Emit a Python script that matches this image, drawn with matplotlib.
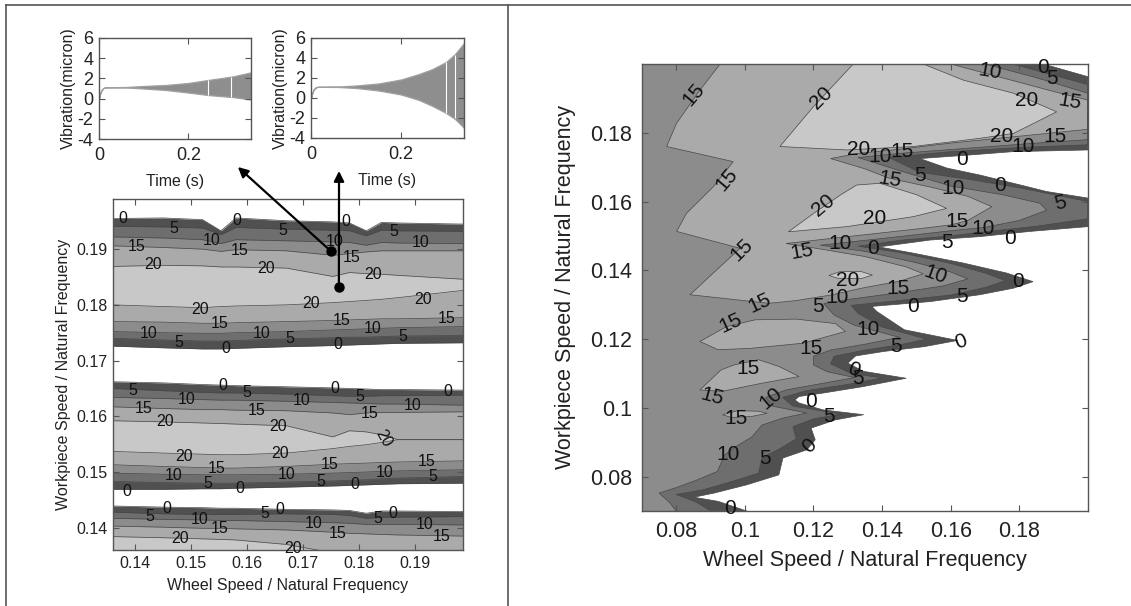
import matplotlib
matplotlib.use('Agg')
import matplotlib.pyplot as plt
from matplotlib.lines import Line2D
from matplotlib.ticker import FuncFormatter

plt.rcParams['font.family'] = ['Liberation Sans', 'DejaVu Sans']
plt.rcParams['axes.unicode_minus'] = False

# ---------------- data ----------------
levels = [0, 5, 10, 15, 20]
shades = ['#505050', '#6e6e6e', '#8c8c8c', '#aaaaaa', '#c8c8c8']
edge = '#474747'

# vibration envelopes of the two insets
time_a = [0, 0.003, 0.006, 0.01, 0.015, 0.06, 0.1, 0.15, 0.2, 0.245, 0.3, 0.34]
upper_a = [0, 0.55, 0.85, 1.05, 1.12, 1.15, 1.25, 1.35, 1.55, 1.85, 2.2, 2.6]
lower_a = [0, 0.55, 0.85, 1.05, 1.12, 1.1, 1.0, 0.85, 0.6, 0.35, 0.15, -0.1]
gaps_a = [0.243, 0.296]          # white sampling streaks
gaps_a_lo = [0.37, 0.17]
gaps_a_hi = [1.83, 2.15]

time_b = [0, 0.003, 0.006, 0.01, 0.015, 0.06, 0.1, 0.15, 0.2, 0.24, 0.27, 0.3, 0.32, 0.34]
upper_b = [0, 0.55, 0.85, 1.05, 1.12, 1.15, 1.25, 1.45, 1.85, 2.4, 2.9, 3.6, 4.4, 5.5]
lower_b = [0, 0.55, 0.85, 1.05, 1.12, 1.1, 1.0, 0.75, 0.35, -0.2, -0.8, -1.5, -2.1, -3.0]
gaps_b = [0.301, 0.319]
gaps_b_lo = [-1.5, -2.0]
gaps_b_hi = [3.6, 4.3]

# left map: contour boundaries (workpiece speed) at each wheel speed, three stable bands
wheel_l = [0.136, 0.145, 0.152, 0.1553, 0.158, 0.167, 0.1753, 0.1783, 0.1813, 0.184, 0.187, 0.1986]

band1_top = [
    [0.1955, 0.1956, 0.1953, 0.1933, 0.1956, 0.1951, 0.1949, 0.1947, 0.1933, 0.1948, 0.1947, 0.1945],
    [0.1941, 0.1940, 0.1938, 0.1926, 0.1939, 0.1936, 0.1934, 0.1933, 0.1924, 0.1934, 0.1933, 0.1932],
    [0.1922, 0.1920, 0.1917, 0.1910, 0.1917, 0.1915, 0.1913, 0.1912, 0.1907, 0.1912, 0.1911, 0.1910],
    [0.1906, 0.1903, 0.1900, 0.1896, 0.1899, 0.1897, 0.1889, 0.1892, 0.1895, 0.1897, 0.1897, 0.1897],
    [0.1869, 0.1871, 0.1870, 0.1868, 0.1868, 0.1866, 0.1851, 0.1858, 0.1856, 0.1855, 0.1853, 0.1846],
]
band1_bot = [
    [0.1726, 0.1723, 0.1721, 0.1721, 0.1722, 0.1725, 0.1727, 0.1728, 0.1729, 0.1730, 0.1731, 0.1732],
    [0.1740, 0.1737, 0.1735, 0.1735, 0.1736, 0.1739, 0.1741, 0.1742, 0.1742, 0.1743, 0.1744, 0.1745],
    [0.1752, 0.1750, 0.1749, 0.1749, 0.1750, 0.1752, 0.1755, 0.1756, 0.1757, 0.1758, 0.1759, 0.1761],
    [0.1770, 0.1769, 0.1767, 0.1767, 0.1768, 0.1770, 0.1772, 0.1773, 0.1774, 0.1775, 0.1775, 0.1777],
    [0.1800, 0.1797, 0.1795, 0.1797, 0.1798, 0.1800, 0.1804, 0.1806, 0.1808, 0.1810, 0.1813, 0.1826],
]
band2_top = [
    [0.1662, 0.1660, 0.1657, 0.1656, 0.1655, 0.1653, 0.1651, 0.1650, 0.1649, 0.1648, 0.1648, 0.1647],
    [0.1650, 0.1646, 0.1643, 0.1642, 0.1642, 0.1640, 0.1637, 0.1636, 0.1636, 0.1637, 0.1637, 0.1638],
    [0.1634, 0.1632, 0.1630, 0.1629, 0.1629, 0.1627, 0.1625, 0.1624, 0.1623, 0.1622, 0.1622, 0.1620],
    [0.1617, 0.1614, 0.1612, 0.1612, 0.1611, 0.1610, 0.1606, 0.1603, 0.1606, 0.1607, 0.1607, 0.1608],
    [0.1592, 0.1590, 0.1588, 0.1587, 0.1586, 0.1583, 0.1563, 0.1574, 0.1572, 0.1567, 0.1558, 0.1558],
]
band2_bot = [
    [0.1469, 0.1469, 0.1470, 0.1470, 0.1471, 0.1473, 0.1475, 0.1476, 0.1477, 0.1478, 0.1479, 0.1480],
    [0.1483, 0.1481, 0.1480, 0.1480, 0.1480, 0.1482, 0.1484, 0.1485, 0.1486, 0.1488, 0.1489, 0.1492],
    [0.1498, 0.1496, 0.1495, 0.1495, 0.1495, 0.1496, 0.1498, 0.1499, 0.1500, 0.1501, 0.1502, 0.1504],
    [0.1513, 0.1510, 0.1508, 0.1507, 0.1507, 0.1510, 0.1514, 0.1515, 0.1516, 0.1517, 0.1518, 0.1520],
    [0.1537, 0.1534, 0.1532, 0.1531, 0.1531, 0.1534, 0.1542, 0.1546, 0.1549, 0.1553, 0.1558, 0.1558],
]
band3_top = [
    [0.1439, 0.1437, 0.1436, 0.1435, 0.1435, 0.1433, 0.1432, 0.1431, 0.1426, 0.1430, 0.1430, 0.1429],
    [0.1428, 0.1425, 0.1424, 0.1424, 0.1424, 0.1425, 0.1424, 0.1422, 0.1417, 0.1418, 0.1419, 0.1420],
    [0.1417, 0.1415, 0.1414, 0.1413, 0.1413, 0.1411, 0.1409, 0.1408, 0.1406, 0.1406, 0.1406, 0.1405],
    [0.1403, 0.1401, 0.1399, 0.1399, 0.1398, 0.1396, 0.1392, 0.1390, 0.1389, 0.1388, 0.1387, 0.1385],
    [0.1384, 0.1382, 0.1380, 0.1379, 0.1378, 0.1370, 0.1355, 0.1350, 0.1345, 0.1340, 0.1340, 0.1340],
]
band3_bot = [[0.13] * 12 for _ in levels]

# the two simulated operating points
picked_wheel = [0.1749, 0.1764]
picked_work = [0.1897, 0.1832]

# right map: contour lines as (wheel, workpiece) paths
c0_x = [0.187, 0.200, 0.200, 0.178, 0.165, 0.151, 0.159, 0.1685, 0.1783, 0.188, 0.200, 0.200, 0.183,
        0.1685, 0.154, 0.139, 0.149, 0.1637, 0.1763, 0.184, 0.1783, 0.1685, 0.154, 0.137, 0.1385, 0.1465,
        0.162, 0.1523, 0.1405, 0.1323, 0.130, 0.1346, 0.147, 0.1346, 0.1228, 0.1158, 0.1146, 0.1158,
        0.1228, 0.1346, 0.1264, 0.1193, 0.1205, 0.1181, 0.1111, 0.1099, 0.1005, 0.0910, 0.0851, 0.0922, 0.1005]
c0_y = [0.200, 0.1963, 0.1750, 0.1745, 0.1735, 0.1725, 0.1697, 0.1677, 0.1653, 0.1629, 0.1610, 0.1527, 0.1513,
        0.1498, 0.1488, 0.1468, 0.1450, 0.1421, 0.1392, 0.1367, 0.1348, 0.1329, 0.1309, 0.1295, 0.1280, 0.1227,
        0.1196, 0.1178, 0.1164, 0.1151, 0.1130, 0.1106, 0.1086, 0.1062, 0.1043, 0.1033, 0.1023, 0.1014,
        0.0994, 0.0980, 0.0965, 0.0941, 0.0907, 0.0878, 0.0854, 0.0805, 0.0776, 0.0752, 0.0740, 0.0728, 0.0700]

c5_x = [0.178, 0.200, 0.200, 0.180, 0.160, 0.142, 0.151, 0.165, 0.180, 0.200, 0.200, 0.185, 0.170, 0.160,
        0.145, 0.133, 0.145, 0.160, 0.170, 0.176, 0.170, 0.160, 0.145, 0.131, 0.133, 0.140, 0.153, 0.145,
        0.135, 0.126, 0.125, 0.131, 0.140, 0.130, 0.118, 0.111, 0.114, 0.128, 0.120, 0.114, 0.115, 0.110,
        0.105, 0.104, 0.096, 0.088, 0.080, 0.086, 0.090]
c5_y = [0.200, 0.1940, 0.1765, 0.1757, 0.1745, 0.1728, 0.1685, 0.1665, 0.1640, 0.1600, 0.1550, 0.1528, 0.1512, 0.1500,
        0.1487, 0.1470, 0.1452, 0.1420, 0.1392, 0.1370, 0.1350, 0.1328, 0.1312, 0.1298, 0.1275, 0.1235, 0.1200, 0.1183,
        0.1168, 0.1150, 0.1128, 0.1100, 0.1087, 0.1068, 0.1050, 0.1030, 0.1005, 0.0982, 0.0968, 0.0945, 0.0910, 0.0880,
        0.0855, 0.0810, 0.0785, 0.0762, 0.0748, 0.0725, 0.0700]

c10_x = [0.170, 0.185, 0.200, 0.200, 0.185, 0.165, 0.145, 0.133, 0.145, 0.160, 0.175, 0.186, 0.188, 0.180,
         0.170, 0.160, 0.145, 0.122, 0.135, 0.150, 0.160, 0.165, 0.158, 0.145, 0.130, 0.123, 0.126, 0.132,
         0.145, 0.135, 0.125, 0.120, 0.120, 0.124, 0.132, 0.122, 0.112, 0.106, 0.108, 0.118, 0.111, 0.105,
         0.102, 0.097, 0.094, 0.092, 0.086, 0.080, 0.075, 0.078, 0.080]
c10_y = [0.200, 0.1960, 0.1915, 0.1780, 0.1770, 0.1755, 0.1740, 0.1728, 0.1690, 0.1645, 0.1620, 0.1595, 0.1575, 0.1545,
         0.1525, 0.1515, 0.1498, 0.1473, 0.1455, 0.1422, 0.1395, 0.1375, 0.1355, 0.1335, 0.1315, 0.1303, 0.1270, 0.1240,
         0.1205, 0.1185, 0.1168, 0.1150, 0.1125, 0.1105, 0.1088, 0.1070, 0.1052, 0.1030, 0.1005, 0.0985, 0.0970, 0.0950,
         0.0915, 0.0885, 0.0862, 0.0815, 0.0790, 0.0768, 0.0752, 0.0725, 0.0700]

c15_x = [0.0928, 0.160, 0.175, 0.190, 0.200, 0.200, 0.190, 0.175, 0.160, 0.145, 0.133, 0.125, 0.135, 0.142,
         0.155, 0.165, 0.172, 0.165, 0.160, 0.150, 0.130, 0.112, 0.122, 0.135, 0.147, 0.152, 0.145, 0.135,
         0.125, 0.115, 0.107, 0.0840, 0.0908, 0.0986, 0.0801, 0.0830, 0.0908, 0.0966, 0.0772, 0.0801, 0.0869]
c15_y = [0.200, 0.200, 0.1960, 0.1920, 0.1895, 0.1810, 0.1800, 0.1785, 0.1770, 0.1752, 0.1740, 0.1725, 0.1695, 0.1668,
         0.1640, 0.1615, 0.1585, 0.1545, 0.1532, 0.1520, 0.1498, 0.1478, 0.1462, 0.1440, 0.1410, 0.1390, 0.1368, 0.1350,
         0.1328, 0.1312, 0.1304, 0.1329, 0.1392, 0.1464, 0.1513, 0.1566, 0.1643, 0.1716, 0.1760, 0.1828, 0.1924]
isle1_x = [0.0869, 0.0946, 0.1030, 0.1150, 0.1264, 0.1293, 0.1170, 0.1016, 0.0922]
isle1_y = [0.1193, 0.1236, 0.1256, 0.1258, 0.1245, 0.1222, 0.1188, 0.1173, 0.1169]
isle2_x = [0.0869, 0.0930, 0.0969, 0.1040, 0.1100, 0.1158, 0.1052, 0.0934]
isle2_y = [0.1052, 0.1110, 0.1125, 0.1140, 0.1120, 0.1091, 0.1072, 0.1048]
isle3_x = [0.0935, 0.0980, 0.1040, 0.1065, 0.1020, 0.0960]
isle3_y = [0.0980, 0.0992, 0.0990, 0.0984, 0.0975, 0.0972]

c20a_x = [0.1316, 0.1200, 0.1102, 0.1297, 0.1491, 0.1686, 0.1783, 0.1909, 0.1783, 0.1637, 0.1520]
c20a_y = [0.2000, 0.1876, 0.1760, 0.1750, 0.1760, 0.1784, 0.1798, 0.1861, 0.1915, 0.1953, 0.2000]
c20b_x = [0.1127, 0.1200, 0.1280, 0.1326, 0.1394, 0.1500, 0.1588, 0.1491, 0.1297]
c20b_y = [0.1512, 0.1565, 0.1620, 0.1648, 0.1653, 0.1620, 0.1580, 0.1556, 0.1527]
c20c_x = [0.1245, 0.1280, 0.1340, 0.1372, 0.1340, 0.1270]
c20c_y = [0.1385, 0.1397, 0.1396, 0.1386, 0.1376, 0.1377]

# contour labels (x, y, text, rotation)
labels_left = [
    (0.1378, 0.1955, '0', 0), (0.1468, 0.1937, '5', 0), (0.1581, 0.1952, '0', 0), (0.1664, 0.1934, '5', 0),
    (0.1777, 0.1949, '0', 0), (0.1863, 0.1931, '5', 0), (0.1402, 0.1904, '15', 0), (0.1536, 0.1916, '10', 0),
    (0.1587, 0.1897, '15', 0), (0.1756, 0.1913, '10', 0), (0.1786, 0.1885, '15', 0), (0.1911, 0.1912, '10', 0),
    (0.1432, 0.1872, '20', 0), (0.1634, 0.1866, '20', 0), (0.1825, 0.1854, '20', 0), (0.1515, 0.1791, '20', 0),
    (0.1715, 0.1803, '20', 0), (0.1914, 0.1810, '20', 0), (0.1551, 0.1767, '15', 0), (0.1768, 0.1772, '15', 0),
    (0.1956, 0.1776, '15', 0), (0.1423, 0.1748, '10', 0), (0.1625, 0.1748, '10', 0), (0.1825, 0.1757, '10', 0),
    (0.1477, 0.1733, '5', 0), (0.1676, 0.1740, '5', 0), (0.1878, 0.1744, '5', 0), (0.1561, 0.1722, '0', 0),
    (0.1762, 0.1728, '0', 0),
    (0.1396, 0.1647, '5', 0), (0.1556, 0.1656, '0', 0), (0.1599, 0.1642, '5', 0), (0.1756, 0.1650, '0', 0),
    (0.1801, 0.1635, '5', 0), (0.1959, 0.1644, '0', 0), (0.1491, 0.1631, '10', 0), (0.1697, 0.1628, '10', 0),
    (0.1896, 0.1619, '10', 0), (0.1414, 0.1614, '15', 0), (0.1616, 0.1611, '15', 0), (0.1819, 0.1605, '15', 0),
    (0.1453, 0.1590, '20', 0), (0.1655, 0.1581, '20', 0), (0.1843, 0.1561, '20', -60), (0.1488, 0.1528, '20', 0),
    (0.1658, 0.1534, '20', 0), (0.1545, 0.1507, '15', 0), (0.1747, 0.1514, '15', 0), (0.1920, 0.1519, '15', 0),
    (0.1468, 0.1494, '10', 0), (0.1670, 0.1495, '10', 0), (0.1845, 0.1499, '10', 0), (0.1530, 0.1480, '5', 0),
    (0.1732, 0.1483, '5', 0), (0.1932, 0.1492, '5', 0), (0.1384, 0.1465, '0', 0), (0.1587, 0.1471, '0', 0),
    (0.1792, 0.1477, '0', 0),
    (0.1456, 0.1435, '0', 0), (0.1426, 0.1420, '5', 0), (0.1658, 0.1432, '0', 0), (0.1631, 0.1426, '5', 0),
    (0.1860, 0.1426, '0', 0), (0.1834, 0.1417, '5', 0), (0.1515, 0.1414, '10', 0), (0.1718, 0.1408, '10', 0),
    (0.1917, 0.1405, '10', 0), (0.1551, 0.1399, '15', 0), (0.1762, 0.1390, '15', 0), (0.1947, 0.1385, '15', 0),
    (0.1480, 0.1380, '20', 0), (0.1682, 0.1362, '20', 0),
]
labels_right = [
    (0.0850, 0.1910, '15', 50), (0.1224, 0.1900, '20', 45), (0.0947, 0.1663, '15', 50), (0.1229, 0.1590, '20', 40),
    (0.0991, 0.1460, '15', 45), (0.1166, 0.1455, '15', 10), (0.1044, 0.1304, '15', 25), (0.0957, 0.1246, '15', 25),
    (0.1715, 0.1978, '10', -10), (0.1868, 0.1989, '0', 0), (0.1895, 0.1958, '5', 0), (0.1822, 0.1895, '20', 0),
    (0.1948, 0.1891, '15', -10), (0.1749, 0.1789, '20', 0), (0.1812, 0.1760, '10', 0), (0.1904, 0.1789, '15', 0),
    (0.1331, 0.1750, '20', 0), (0.1394, 0.1731, '10', 0), (0.1457, 0.1745, '15', 0), (0.1632, 0.1721, '0', 0),
    (0.1423, 0.1663, '15', -10), (0.1511, 0.1677, '5', 0), (0.1608, 0.1639, '10', 0), (0.1744, 0.1648, '0', 0),
    (0.1919, 0.1595, '5', 15), (0.1379, 0.1551, '20', 0), (0.1618, 0.1543, '15', 0), (0.1588, 0.1482, '5', 0),
    (0.1695, 0.1522, '10', 0), (0.1773, 0.1493, '0', 0), (0.1277, 0.1479, '10', 0), (0.1374, 0.1464, '0', 0),
    (0.1554, 0.1387, '10', -20), (0.1797, 0.1367, '0', 0), (0.1300, 0.1369, '20', 0), (0.1447, 0.1348, '15', 0),
    (0.1632, 0.1324, '5', 0), (0.1491, 0.1295, '0', 0), (0.1270, 0.1320, '10', 0), (0.1212, 0.1296, '5', 0),
    (0.1358, 0.1227, '10', 0), (0.1629, 0.1193, '0', 20), (0.1193, 0.1174, '15', 0), (0.1440, 0.1178, '5', 0),
    (0.1010, 0.1115, '15', 0), (0.1317, 0.1111, '0', -20), (0.1329, 0.1086, '5', 0), (0.0904, 0.1033, '15', -15),
    (0.1075, 0.1028, '10', 40), (0.1193, 0.1018, '0', 0), (0.0975, 0.0970, '15', 0), (0.1246, 0.0975, '5', 0),
    (0.1187, 0.0888, '0', 45), (0.0952, 0.0864, '10', 0), (0.1058, 0.0854, '5', 0), (0.0957, 0.0708, '0', 0),
]

fmt = FuncFormatter(lambda v, p: f'{v:g}')


def style(ax, size, pad):
    for s in ax.spines.values():
        s.set_color('#555555')
        s.set_linewidth(1.0)
    ax.tick_params(direction='in', top=True, right=True, length=4, width=0.8, color='#555555',
                   labelsize=size, pad=pad, labelcolor='#222222')
    ax.xaxis.set_major_formatter(fmt)
    ax.yaxis.set_major_formatter(fmt)


def inset(rect, t, up, lo, gt, glo, ghi):
    ax = fig.add_axes(rect)
    ax.fill_between(t, lo, up, facecolor='#8e8e8e', edgecolor='#a0a0a0', lw=0.9)
    ax.vlines(gt, glo, ghi, color='white', lw=0.8)
    ax.set_xlim(0, 0.34)
    ax.set_ylim(-4, 6)
    ax.set_xticks([0, 0.2])
    ax.set_yticks([-4, -2, 0, 2, 4, 6])
    style(ax, 13, 4)
    ax.tick_params(axis='x', pad=6)
    ax.set_xlabel('Time (s)', fontsize=11.5, labelpad=7, color='#222222')
    ax.set_ylabel('Vibration(micron)', fontsize=11.5, labelpad=1, color='#222222')
    return ax


fig = plt.figure(figsize=(11.31, 6.06), dpi=100)

# frame lines
fig.add_artist(Line2D([6 / 1131, 1], [1 - 5 / 606] * 2, color='#555555', lw=1.2, transform=fig.transFigure))
fig.add_artist(Line2D([6 / 1131] * 2, [0, 1 - 5 / 606], color='#555555', lw=1.2, transform=fig.transFigure))
fig.add_artist(Line2D([508 / 1131] * 2, [0, 1 - 5 / 606], color='#555555', lw=1.2, transform=fig.transFigure))

ins_a = inset([0.0875, 0.7706, 0.1344, 0.1667], time_a, upper_a, lower_a, gaps_a, gaps_a_lo, gaps_a_hi)
ins_b = inset([0.2750, 0.7723, 0.1353, 0.1650], time_b, upper_b, lower_b, gaps_b, gaps_b_lo, gaps_b_hi)

# ---- left stability map ----
axl = fig.add_axes([0.0999, 0.0924, 0.3095, 0.5792])
for top, bot in [(band1_top, band1_bot), (band2_top, band2_bot), (band3_top, band3_bot)]:
    for k in range(len(levels)):
        axl.fill_between(wheel_l, bot[k], top[k], color=shades[k], lw=0)
        axl.plot(wheel_l, top[k], color=edge, lw=0.5)
        axl.plot(wheel_l, bot[k], color=edge, lw=0.5)
for x, y, s, r in labels_left:
    axl.text(x, y, s, fontsize=11.5, ha='center', va='center', rotation=r, color='#111111')
axl.set_xlim(0.136, 0.1986)
axl.set_ylim(0.136, 0.199)
axl.set_xticks([0.14, 0.15, 0.16, 0.17, 0.18, 0.19])
axl.set_yticks([0.14, 0.15, 0.16, 0.17, 0.18, 0.19])
style(axl, 11.5, 4)
axl.set_xlabel('Wheel Speed / Natural Frequency', fontsize=11.5, labelpad=5, color='#222222')
axl.set_ylabel('Workpiece Speed / Natural Frequency', fontsize=11.5, labelpad=4, color='#222222')

axl.plot(picked_wheel, picked_work, 'o', color='k', ms=6.5, zorder=6)
axl.annotate('', xy=(0.914, -0.277), xycoords=ins_a.transAxes,
             xytext=(picked_wheel[0], picked_work[0]), textcoords='data',
             arrowprops=dict(arrowstyle='-|>', color='k', lw=1.6, mutation_scale=15, shrinkA=0, shrinkB=0),
             annotation_clip=False, zorder=7)
axl.annotate('', xy=(0.183, -0.33), xycoords=ins_b.transAxes,
             xytext=(picked_wheel[1], picked_work[1]), textcoords='data',
             arrowprops=dict(arrowstyle='-|>', color='k', lw=1.6, mutation_scale=15, shrinkA=0, shrinkB=0),
             annotation_clip=False, zorder=7)

# ---- right stability map ----
axr = fig.add_axes([0.5676, 0.1568, 0.3943, 0.7376])
for k, (cx, cy) in enumerate([(c0_x, c0_y), (c5_x, c5_y), (c10_x, c10_y)]):
    axr.fill([0.07] + cx + [0.07], [0.2] + cy + [0.07], facecolor=shades[k], edgecolor='none')
    axr.plot(cx, cy, color=edge, lw=0.5)
for cx, cy in [(c15_x, c15_y), (isle1_x, isle1_y), (isle2_x, isle2_y), (isle3_x, isle3_y)]:
    axr.fill(cx, cy, facecolor=shades[3], edgecolor=edge, lw=0.5)
for cx, cy in [(c20a_x, c20a_y), (c20b_x, c20b_y), (c20c_x, c20c_y)]:
    axr.fill(cx, cy, facecolor=shades[4], edgecolor=edge, lw=0.5)
for x, y, s, r in labels_right:
    axr.text(x, y, s, fontsize=15, ha='center', va='center', rotation=r, color='#111111')
axr.set_xlim(0.07, 0.2)
axr.set_ylim(0.07, 0.2)
axr.set_xticks([0.08, 0.1, 0.12, 0.14, 0.16, 0.18])
axr.set_yticks([0.08, 0.1, 0.12, 0.14, 0.16, 0.18])
style(axr, 15.5, 7)
axr.set_xlabel('Wheel Speed / Natural Frequency', fontsize=15.5, labelpad=6, color='#222222')
axr.set_ylabel('Workpiece Speed / Natural Frequency', fontsize=15.5, labelpad=10, color='#222222')

fig.savefig('out.png', dpi=100)
